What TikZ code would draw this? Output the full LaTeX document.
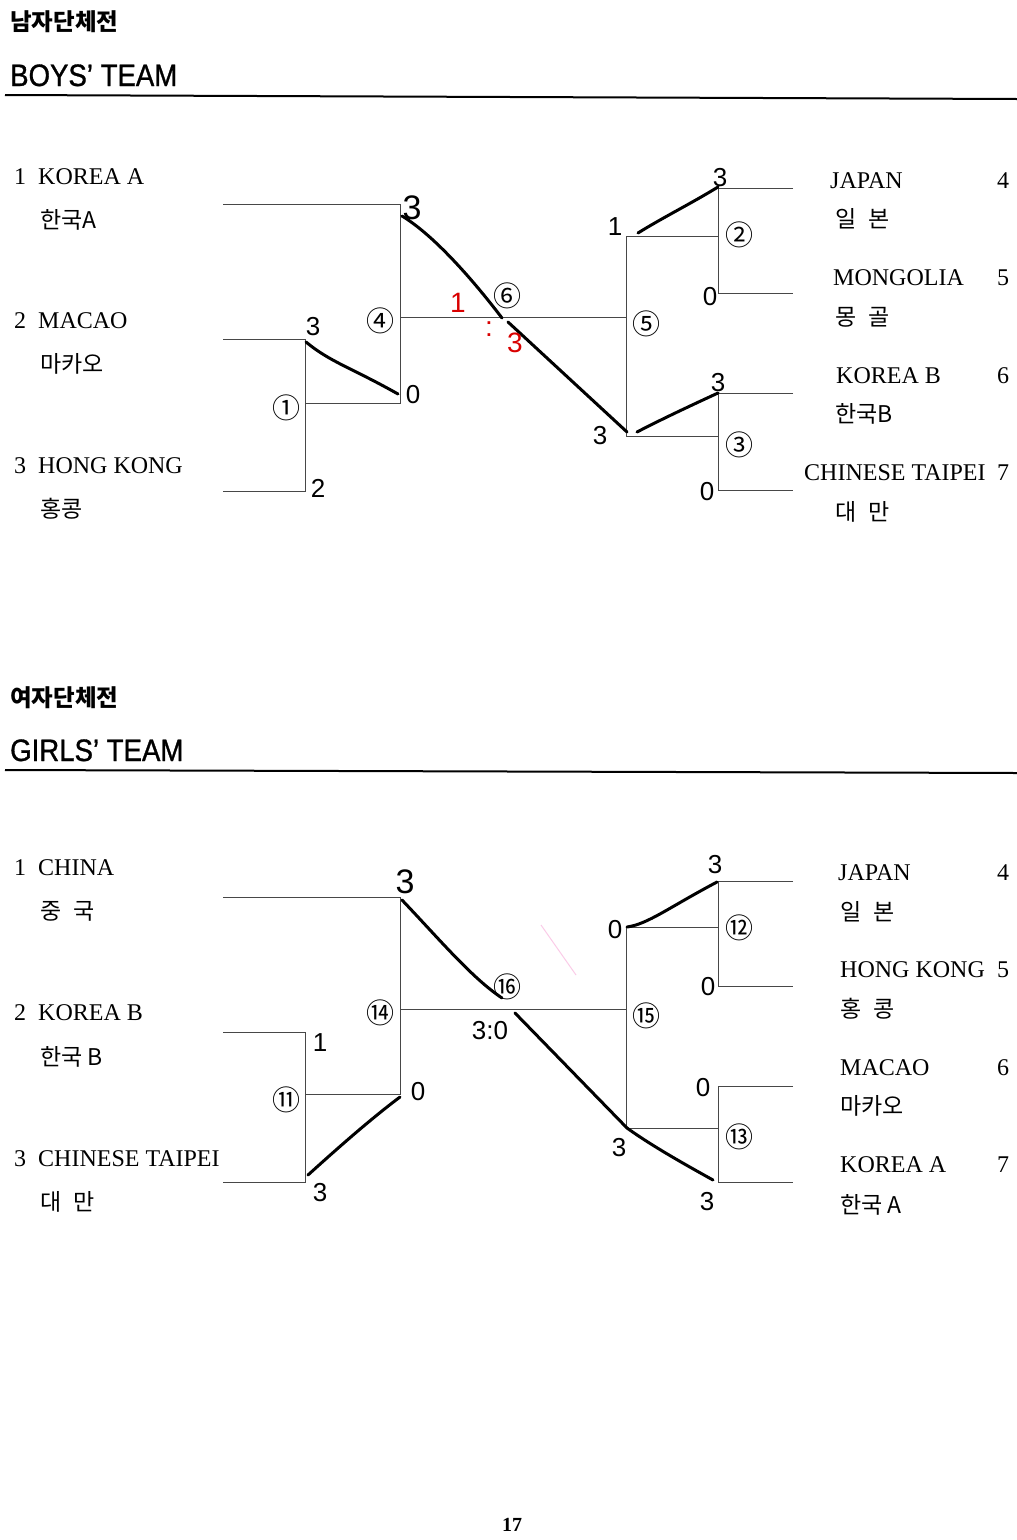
\documentclass[tikz,border=0pt]{standalone}
\usepackage{fontspec}
\setmainfont{Liberation Serif}
\newfontfamily\kr{Noto Sans CJK KR}
\newfontfamily\hd[FakeStretch=0.89,FakeBold=1]{Liberation Sans}
\newfontfamily\hw{Liberation Sans}
\begin{document}
\begin{tikzpicture}[x=1pt,y=-1pt,
  brk/.style={draw=black!72, line width=1pt},
  rule/.style={draw=black, line width=2pt},
  hand/.style={draw=black, line width=3pt, line cap=round, line join=round},
  lab/.style={inner sep=0pt, anchor=base west, font=\fontsize{24}{24}\selectfont},
  rnum/.style={inner sep=0pt, anchor=base, font=\fontsize{24}{24}\selectfont},
  krl/.style={inner sep=0pt, anchor=base west, font=\kr\fontsize{23}{23}\selectfont},
  circ/.style={inner sep=0pt, font=\kr\fontsize{28}{28}\selectfont},
  sc/.style={inner sep=0pt, font=\hw\fontsize{26}{26}\selectfont},
  scbig/.style={inner sep=0pt, font=\hw\fontsize{34}{34}\selectfont},
  scred/.style={inner sep=0pt, text=red!85!black, font=\hw\fontsize{28}{28}\selectfont},
  khead/.style={inner sep=0pt, anchor=base west, font=\kr\bfseries\fontsize{23.5}{23.5}\selectfont},
  ehead/.style={inner sep=0pt, anchor=base west, font=\hd\fontsize{31}{31}\selectfont}]
\useasboundingbox (0,0) rectangle (1017,1540);
\fill[white] (0,0) rectangle (1017,1540);

% ---------------- headings ----------------
\node[khead] (kb) at (10,30) {남자단체전};
\node[ehead] (eb) at (10,86) {BOYS’ TEAM};
\coordinate (rbl) at (5,95);
\coordinate (rbr) at (1017,99);
\draw[rule] (rbl) -- (rbr);

\node[khead] (kg) at (10,706) {여자단체전};
\node[ehead] (eg) at (10,761) {GIRLS’ TEAM};
\coordinate (rgl) at (5,770);
\coordinate (rgr) at (1017,773);
\draw[rule] (rgl) -- (rgr);

% ---------------- boys bracket ----------------
\coordinate (b1) at (223,204); \coordinate (b1e) at (400,204);
\coordinate (b2) at (223,339); \coordinate (b2e) at (305,339);
\coordinate (b3) at (223,491); \coordinate (b3e) at (305,491);
\coordinate (m1) at (305,403); \coordinate (m1e) at (400,403);
\coordinate (m4) at (400,317); \coordinate (m4e) at (626,317);
\coordinate (m5t) at (626,236); \coordinate (m5b) at (626,436);
\coordinate (m2) at (718,236); \coordinate (m3) at (718,436);
\coordinate (r4) at (793,188); \coordinate (r4e) at (718,188);
\coordinate (r5) at (793,293); \coordinate (r5e) at (718,293);
\coordinate (r6) at (793,393); \coordinate (r6e) at (718,393);
\coordinate (r7) at (793,490); \coordinate (r7e) at (718,490);
\draw[brk] (b1) -- (b1e) -- (m1e) -- (m1);
\draw[brk] (b2) -- (b2e) -- (b3e) -- (b3);
\draw[brk] (m4) -- (m4e);
\draw[brk] (m2) -- (m5t) -- (m5b) -- (m3);
\draw[brk] (r4) -- (r4e) -- (r5e) -- (r5);
\draw[brk] (r6) -- (r6e) -- (r7e) -- (r7);

\node[circ] (c1) at (286,408) {①};
\node[circ] (c4) at (380,321) {④};
\node[circ] (c6) at (507,296) {⑥};
\node[circ] (c5) at (646,324) {⑤};
\node[circ] (c2) at (739,235) {②};
\node[circ] (c3) at (739,445) {③};

% boys labels left
\node[lab] (bl1) at (14,184) {\makebox[24pt][l]{1}KOREA A};
\node[krl] (bk1) at (40,228) {한국A};
\node[lab] (bl2) at (14,328) {\makebox[24pt][l]{2}MACAO};
\node[krl] (bk2) at (40,372) {마카오};
\node[lab] (bl3) at (14,473) {\makebox[24pt][l]{3}HONG KONG};
\node[krl] (bk3) at (40,517) {홍콩};
% boys labels right
\node[lab] (br4) at (830,188) {JAPAN};
\node[rnum] (bn4) at (1003,188) {4};
\node[krl] (bk4) at (835,227) {일\hspace{12pt}본};
\node[lab] (br5) at (833,285) {MONGOLIA};
\node[rnum] (bn5) at (1003,285) {5};
\node[krl] (bk5) at (835,325) {몽\hspace{12pt}골};
\node[lab] (br6) at (836,383) {KOREA B};
\node[rnum] (bn6) at (1003,383) {6};
\node[krl] (bk6) at (835,422) {한국B};
\node[lab] (br7) at (804,480) {CHINESE TAIPEI};
\node[rnum] (bn7) at (1003,480) {7};
\node[krl] (bk7) at (835,520) {대\hspace{12pt}만};

% boys handwritten results
\draw[hand] (402,216) .. controls (432,234) and (470,276) .. (502,318);
\draw[hand] (508,322) -- (627,432);
\draw[hand] (306,342) .. controls (330,362) and (352,368) .. (398,394);
\draw[hand] (638,233) .. controls (662,218) and (692,203) .. (718,187);
\draw[hand] (637,432) .. controls (662,419) and (692,405) .. (718,393);
\node[scbig] (hs1) at (412,208) {3};
\node[sc] (hs2) at (313,327) {3};
\node[sc] (hs3) at (413,395) {0};
\node[sc] (hs4) at (318,488) {2};
\node[sc] (hs5) at (600,436) {3};
\node[sc] (hs6) at (615,227) {1};
\node[sc] (hs7) at (720,178) {3};
\node[sc] (hs8) at (710,297) {0};
\node[sc] (hs9) at (718,383) {3};
\node[sc] (hs10) at (707,492) {0};
\node[scred] (hr1) at (458,303) {1};
\node[scred] (hr2) at (489,329) {:};
\node[scred] (hr3) at (515,343) {3};

% ---------------- girls bracket ----------------
\coordinate (g1) at (223,897); \coordinate (g1e) at (400,897);
\coordinate (g2) at (223,1032); \coordinate (g2e) at (305,1032);
\coordinate (g3) at (223,1182); \coordinate (g3e) at (305,1182);
\coordinate (gm11) at (305,1094); \coordinate (gm11e) at (400,1094);
\coordinate (gm14) at (400,1009); \coordinate (gm14e) at (626,1009);
\coordinate (gm15t) at (626,927); \coordinate (gm15b) at (626,1128);
\coordinate (gm12) at (718,927); \coordinate (gm13) at (718,1128);
\coordinate (gr4) at (793,881); \coordinate (gr4e) at (718,881);
\coordinate (gr5) at (793,986); \coordinate (gr5e) at (718,986);
\coordinate (gr6) at (793,1086); \coordinate (gr6e) at (718,1086);
\coordinate (gr7) at (793,1182); \coordinate (gr7e) at (718,1182);
\draw[brk] (g1) -- (g1e) -- (gm11e) -- (gm11);
\draw[brk] (g2) -- (g2e) -- (g3e) -- (g3);
\draw[brk] (gm14) -- (gm14e);
\draw[brk] (gm12) -- (gm15t) -- (gm15b) -- (gm13);
\draw[brk] (gr4) -- (gr4e) -- (gr5e) -- (gr5);
\draw[brk] (gr6) -- (gr6e) -- (gr7e) -- (gr7);

\node[circ] (c11) at (286,1100) {⑪};
\node[circ] (c14) at (380,1013) {⑭};
\node[circ] (c16) at (507,987) {⑯};
\node[circ] (c15) at (646,1016) {⑮};
\node[circ] (c12) at (739,928) {⑫};
\node[circ] (c13) at (739,1137) {⑬};

% girls labels left
\node[lab] (gl1) at (14,875) {\makebox[24pt][l]{1}CHINA};
\node[krl] (gk1) at (40,919) {중\hspace{12pt}국};
\node[lab] (gl2) at (14,1020) {\makebox[24pt][l]{2}KOREA B};
\node[krl] (gk2) at (40,1065) {한국 B};
\node[lab] (gl3) at (14,1166) {\makebox[24pt][l]{3}CHINESE TAIPEI};
\node[krl] (gk3) at (40,1210) {대\hspace{12pt}만};
% girls labels right
\node[lab] (gr4t) at (838,880) {JAPAN};
\node[rnum] (gn4) at (1003,880) {4};
\node[krl] (gk4) at (840,920) {일\hspace{12pt}본};
\node[lab] (gr5t) at (840,977) {HONG KONG};
\node[rnum] (gn5) at (1003,977) {5};
\node[krl] (gk5) at (840,1017) {홍\hspace{12pt}콩};
\node[lab] (gr6t) at (840,1075) {MACAO};
\node[rnum] (gn6) at (1003,1075) {6};
\node[krl] (gk6) at (840,1114) {마카오};
\node[lab] (gr7t) at (840,1172) {KOREA A};
\node[rnum] (gn7) at (1003,1172) {7};
\node[krl] (gk7) at (840,1213) {한국 A};

% girls handwritten results
\draw[hand] (402,900) .. controls (440,940) and (472,978) .. (502,998);
\draw[hand] (515,1013) -- (627,1128);
\draw[hand] (308,1175) .. controls (340,1146) and (372,1118) .. (400,1097);
\draw[hand] (627,927) .. controls (648,924) and (668,908) .. (717,882);
\draw[hand] (627,1128) .. controls (652,1146) and (686,1165) .. (713,1180);
\draw[draw=magenta!40, line width=1pt, opacity=0.5] (541,925) -- (576,975);
\node[scbig] (hg1) at (405,882) {3};
\node[sc] (hg2) at (320,1043) {1};
\node[sc] (hg3) at (418,1092) {0};
\node[sc] (hg4) at (320,1193) {3};
\node[sc] (hg5) at (490,1031) {3:0};
\node[sc] (hg6) at (615,930) {0};
\node[sc] (hg7) at (715,865) {3};
\node[sc] (hg8) at (708,987) {0};
\node[sc] (hg9) at (703,1088) {0};
\node[sc] (hg10) at (619,1148) {3};
\node[sc] (hg11) at (707,1202) {3};

% page number
\node[inner sep=0pt, font=\bfseries\fontsize{20}{20}\selectfont] (pg) at (512,1525) {17};
\end{tikzpicture}
\end{document}
